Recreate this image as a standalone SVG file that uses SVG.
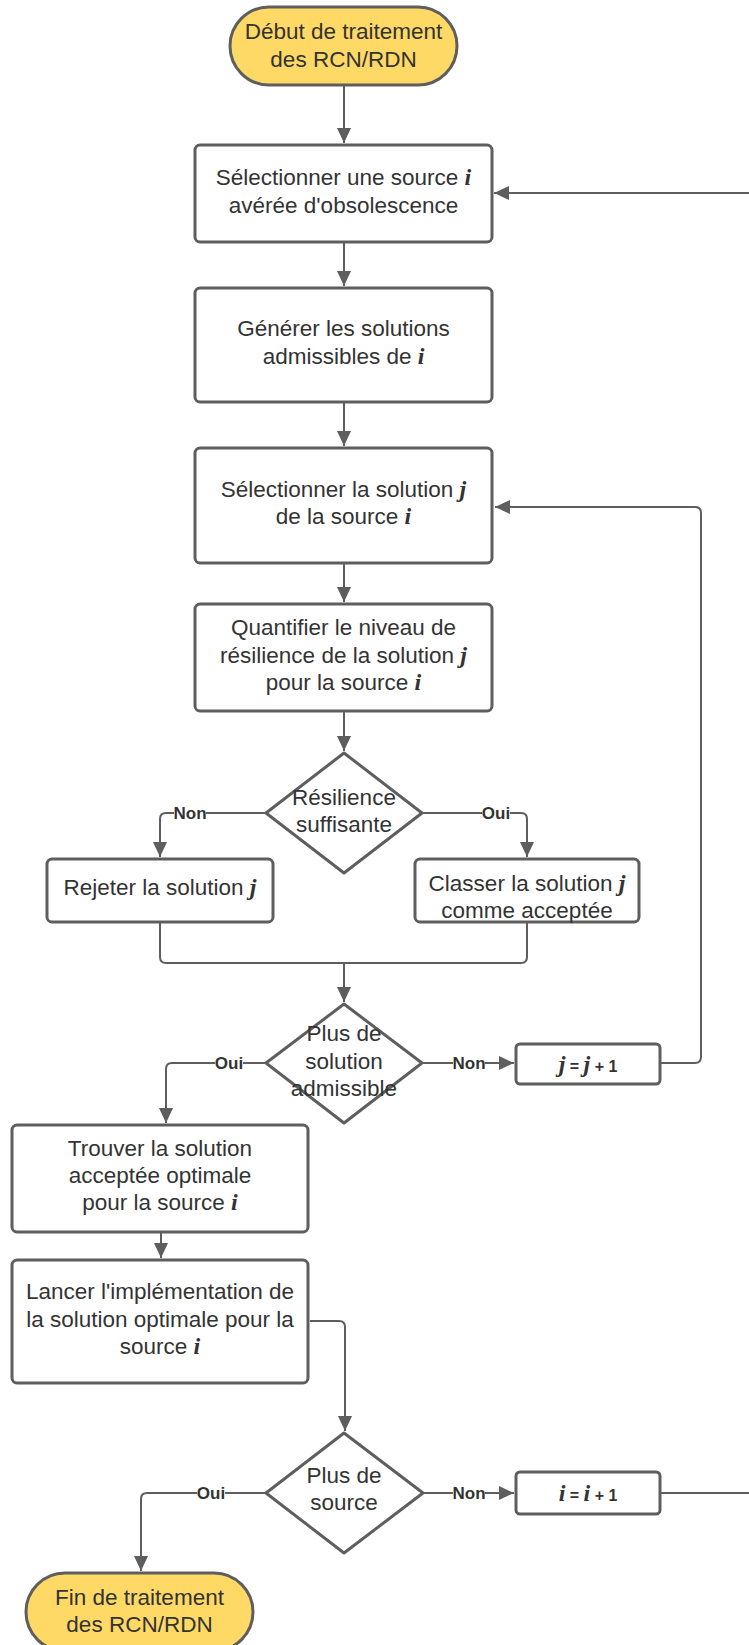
<svg xmlns="http://www.w3.org/2000/svg" width="749" height="1645" viewBox="0 0 749 1645">
  <style>
    .box { fill: #ffffff; stroke: #5e5e5e; stroke-width: 3; }
    .term { fill: #ffd966; stroke: #5e5e5e; stroke-width: 3; }
    .dia { fill: #ffffff; stroke: #5e5e5e; stroke-width: 3; stroke-linejoin: round; }
    .t { font-family: "Liberation Sans", Arial, sans-serif; font-size: 22.5px; fill: #333333; text-anchor: middle; }
    .m { font-family: "Liberation Serif", "Times New Roman", serif; font-weight: bold; font-style: italic; font-size: 24px; }
    .op { font-family: "Liberation Sans", Arial, sans-serif; font-weight: bold; font-size: 16px; }
    .lbl { font-family: "Liberation Sans", Arial, sans-serif; font-weight: bold; font-size: 17px; fill: #333333; text-anchor: middle; }
    .lblbg { fill: #ffffff; }
    .c { fill: none; stroke: #5e5e5e; stroke-width: 2; }
  </style>
  <defs>
    <marker id="arrow" markerUnits="userSpaceOnUse" markerWidth="16" markerHeight="14" refX="15" refY="7" orient="auto">
      <path d="M0,0 L15,7 L0,14 Z" fill="#5e5e5e"/>
    </marker>
  </defs>

  <rect width="749" height="1645" fill="#ffffff"/>

  <!-- connectors -->
  <g id="connectors">
    <path class="c" d="M344,85 V143" marker-end="url(#arrow)"/>
    <path class="c" d="M344,242 V286" marker-end="url(#arrow)"/>
    <path class="c" d="M344,402 V446" marker-end="url(#arrow)"/>
    <path class="c" d="M344,563 V602" marker-end="url(#arrow)"/>
    <path class="c" d="M344,711 V751" marker-end="url(#arrow)"/>
    <path class="c" d="M266,813 H166 Q160,813 160,819 V857" marker-end="url(#arrow)"/>
    <path class="c" d="M422,813 H521 Q527,813 527,819 V857" marker-end="url(#arrow)"/>
    <path class="c" d="M160,922 V957 Q160,963 166,963 H521 Q527,963 527,957 V922"/>
    <path class="c" d="M344,963 V1002" marker-end="url(#arrow)"/>
    <path class="c" d="M266,1063 H172 Q166,1063 166,1069 V1123" marker-end="url(#arrow)"/>
    <path class="c" d="M422,1063 H514" marker-end="url(#arrow)"/>
    <path class="c" d="M660,1063 H695 Q701,1063 701,1057 V513 Q701,507 695,507 H495" marker-end="url(#arrow)"/>
    <path class="c" d="M161,1232 V1258" marker-end="url(#arrow)"/>
    <path class="c" d="M310,1321 H339 Q345,1321 345,1327 V1431" marker-end="url(#arrow)"/>
    <path class="c" d="M266,1493 H147 Q141,1493 141,1499 V1571" marker-end="url(#arrow)"/>
    <path class="c" d="M423,1493 H514" marker-end="url(#arrow)"/>
    <path class="c" d="M660,1493 H770 V193 H494" marker-end="url(#arrow)"/>

    <!-- label backgrounds cut the lines under the labels -->
    <rect class="lblbg" x="174" y="805" width="32" height="16"/>
    <rect class="lblbg" x="482" y="805" width="28" height="16"/>
    <rect class="lblbg" x="215" y="1055" width="28" height="16"/>
    <rect class="lblbg" x="453" y="1055" width="32" height="16"/>
    <rect class="lblbg" x="197" y="1485" width="28" height="16"/>
    <rect class="lblbg" x="453" y="1485" width="32" height="16"/>

    <text class="lbl" x="190" y="819">Non</text>
    <text class="lbl" x="496" y="819">Oui</text>
    <text class="lbl" x="229" y="1069">Oui</text>
    <text class="lbl" x="469" y="1069">Non</text>
    <text class="lbl" x="211" y="1499">Oui</text>
    <text class="lbl" x="469" y="1499">Non</text>
  </g>

  <!-- nodes -->
  <g id="start">
    <rect class="term" x="230" y="7" width="227" height="78" rx="39"/>
    <text class="t" x="343.5" y="39">Début de traitement</text>
    <text class="t" x="343.5" y="67">des RCN/RDN</text>
  </g>

  <g id="select-source">
    <rect class="box" x="195" y="145" width="297" height="97" rx="5"/>
    <text class="t" x="343.5" y="185">Sélectionner une source <tspan class="m">i</tspan></text>
    <text class="t" x="343.5" y="213">avérée d'obsolescence</text>
  </g>

  <g id="generate">
    <rect class="box" x="195" y="288" width="297" height="114" rx="5"/>
    <text class="t" x="343.5" y="336">Générer les solutions</text>
    <text class="t" x="343.5" y="364">admissibles de <tspan class="m">i</tspan></text>
  </g>

  <g id="select-solution">
    <rect class="box" x="195" y="448" width="297" height="115" rx="5"/>
    <text class="t" x="343.5" y="497">Sélectionner la solution <tspan class="m">j</tspan></text>
    <text class="t" x="343.5" y="524">de la source <tspan class="m">i</tspan></text>
  </g>

  <g id="quantify">
    <rect class="box" x="195" y="604" width="297" height="107" rx="5"/>
    <text class="t" x="343.5" y="635">Quantifier le niveau de</text>
    <text class="t" x="343.5" y="663">résilience de la solution <tspan class="m">j</tspan></text>
    <text class="t" x="343.5" y="690">pour la source <tspan class="m">i</tspan></text>
  </g>

  <g id="resilience">
    <polygon class="dia" points="344,753 422,813 344,873 266,813"/>
    <text class="t" x="344" y="805">Résilience</text>
    <text class="t" x="344" y="832">suffisante</text>
  </g>

  <g id="reject">
    <rect class="box" x="47" y="859" width="226" height="63" rx="5"/>
    <text class="t" x="160" y="895">Rejeter la solution <tspan class="m">j</tspan></text>
  </g>

  <g id="accept">
    <rect class="box" x="415" y="859" width="224" height="63" rx="5"/>
    <text class="t" x="527" y="891">Classer la solution <tspan class="m">j</tspan></text>
    <text class="t" x="527" y="918">comme acceptée</text>
  </g>

  <g id="more-solutions">
    <polygon class="dia" points="344,1004 422,1063 344,1123 266,1063"/>
    <text class="t" x="344" y="1041">Plus de</text>
    <text class="t" x="344" y="1069">solution</text>
    <text class="t" x="344" y="1096">admissible</text>
  </g>

  <g id="next-j">
    <rect class="box" x="516" y="1044" width="144" height="40" rx="4"/>
    <text class="t" x="588" y="1072"><tspan class="m">j</tspan><tspan class="op"> = </tspan><tspan class="m">j</tspan><tspan class="op"> + 1</tspan></text>
  </g>

  <g id="find-optimal">
    <rect class="box" x="12" y="1125" width="296" height="107" rx="5"/>
    <text class="t" x="160" y="1156">Trouver la solution</text>
    <text class="t" x="160" y="1183">acceptée optimale</text>
    <text class="t" x="160" y="1210">pour la source <tspan class="m">i</tspan></text>
  </g>

  <g id="implement">
    <rect class="box" x="12" y="1260" width="296" height="123" rx="5"/>
    <text class="t" x="160" y="1299">Lancer l'implémentation de</text>
    <text class="t" x="160" y="1327">la solution optimale pour la</text>
    <text class="t" x="160" y="1354">source <tspan class="m">i</tspan></text>
  </g>

  <g id="more-sources">
    <polygon class="dia" points="344,1433 423,1493 344,1553 266,1493"/>
    <text class="t" x="344" y="1483">Plus de</text>
    <text class="t" x="344" y="1510">source</text>
  </g>

  <g id="next-i">
    <rect class="box" x="516" y="1472" width="144" height="42" rx="4"/>
    <text class="t" x="588" y="1501"><tspan class="m">i</tspan><tspan class="op"> = </tspan><tspan class="m">i</tspan><tspan class="op"> + 1</tspan></text>
  </g>

  <g id="end">
    <rect class="term" x="26" y="1573" width="227" height="78" rx="39"/>
    <text class="t" x="139.5" y="1605">Fin de traitement</text>
    <text class="t" x="139.5" y="1632">des RCN/RDN</text>
  </g>
</svg>
